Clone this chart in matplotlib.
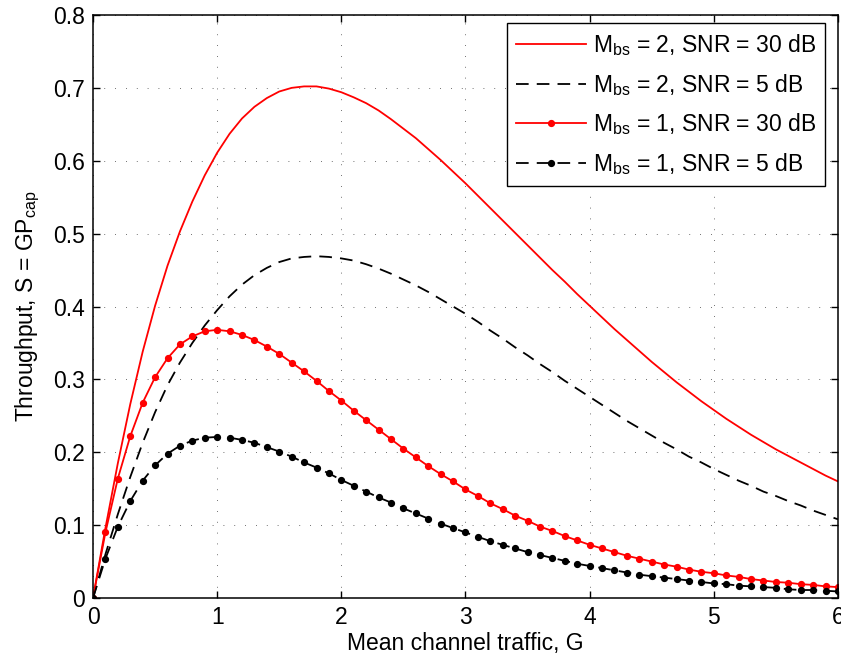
import numpy as np
import matplotlib
matplotlib.use('Agg')
import matplotlib.pyplot as plt
from matplotlib.ticker import FormatStrFormatter

plt.rcParams['font.family'] = ['Liberation Sans', 'DejaVu Sans']
plt.rcParams['mathtext.fontset'] = 'custom'
plt.rcParams['mathtext.rm'] = 'Liberation Sans'
plt.rcParams['mathtext.it'] = 'Liberation Sans'

# Mean channel traffic G, step 0.1
g = np.linspace(0, 6, 61)

# M_bs = 2, SNR = 30 dB
m2_snr30 = [0.000, 0.096, 0.185, 0.266, 0.338, 0.401, 0.456, 0.503, 0.544, 0.580,
            0.611, 0.637, 0.658, 0.674, 0.686, 0.695, 0.700, 0.702, 0.702, 0.699,
            0.694, 0.687, 0.679, 0.669, 0.657, 0.644, 0.631, 0.616, 0.601, 0.585,
            0.569, 0.552, 0.535, 0.518, 0.501, 0.484, 0.467, 0.450, 0.434, 0.417,
            0.401, 0.385, 0.369, 0.354, 0.339, 0.324, 0.310, 0.296, 0.283, 0.270,
            0.258, 0.246, 0.235, 0.224, 0.214, 0.204, 0.195, 0.186, 0.177, 0.168,
            0.160]

# M_bs = 2, SNR = 5 dB
m2_snr5 = [0.000, 0.060, 0.115, 0.166, 0.213, 0.255, 0.292, 0.323, 0.350, 0.374,
           0.395, 0.414, 0.430, 0.443, 0.453, 0.461, 0.466, 0.468, 0.469, 0.468,
           0.466, 0.463, 0.458, 0.452, 0.445, 0.437, 0.429, 0.420, 0.410, 0.400,
           0.390, 0.379, 0.367, 0.356, 0.344, 0.333, 0.321, 0.310, 0.298, 0.287,
           0.276, 0.265, 0.254, 0.243, 0.233, 0.223, 0.213, 0.204, 0.194, 0.186,
           0.177, 0.169, 0.161, 0.154, 0.146, 0.140, 0.133, 0.127, 0.120, 0.114,
           0.108]

# M_bs = 1, SNR = 30 dB
m1_snr30 = [0.000, 0.090, 0.164, 0.222, 0.268, 0.303, 0.329, 0.348, 0.359, 0.366,
            0.368, 0.366, 0.361, 0.354, 0.345, 0.335, 0.323, 0.311, 0.298, 0.284,
            0.271, 0.257, 0.244, 0.231, 0.218, 0.205, 0.193, 0.181, 0.170, 0.160,
            0.149, 0.140, 0.130, 0.122, 0.113, 0.106, 0.098, 0.092, 0.085, 0.079,
            0.073, 0.068, 0.063, 0.058, 0.054, 0.050, 0.046, 0.043, 0.039, 0.036,
            0.034, 0.031, 0.029, 0.026, 0.024, 0.022, 0.021, 0.019, 0.018, 0.016,
            0.015]

# M_bs = 1, SNR = 5 dB
m1_snr5 = [0.000, 0.054, 0.098, 0.133, 0.161, 0.182, 0.198, 0.209, 0.216, 0.220,
           0.221, 0.220, 0.217, 0.213, 0.207, 0.201, 0.194, 0.186, 0.179, 0.171,
           0.162, 0.154, 0.146, 0.138, 0.131, 0.123, 0.116, 0.109, 0.102, 0.096,
           0.090, 0.084, 0.078, 0.073, 0.068, 0.063, 0.059, 0.055, 0.051, 0.047,
           0.044, 0.041, 0.038, 0.035, 0.032, 0.030, 0.028, 0.026, 0.024, 0.022,
           0.020, 0.019, 0.017, 0.016, 0.015, 0.014, 0.012, 0.011, 0.011, 0.010,
           0.009]

labels = [r'M$_{\mathrm{bs}}$ = 2, SNR = 30 dB',
          r'M$_{\mathrm{bs}}$ = 2, SNR = 5 dB',
          r'M$_{\mathrm{bs}}$ = 1, SNR = 30 dB',
          r'M$_{\mathrm{bs}}$ = 1, SNR = 5 dB']

fs = 16.5
fig = plt.figure(figsize=(8.41, 6.6), dpi=100)
ax = fig.add_axes([0.1106, 0.0939, 0.8858, 0.8834])

ax.plot(g, m2_snr30, color='red', lw=1.3, label=labels[0])
ax.plot(g, m2_snr5, color='black', lw=1.3, dashes=(7, 4.5), label=labels[1])
ax.plot(g, m1_snr30, color='red', lw=1.3, marker='o', markersize=4.2, label=labels[2])
ax.plot(g, m1_snr5, color='black', lw=1.3, dashes=(7, 4.5), marker='o',
        markersize=4.2, label=labels[3])

ax.set_xlim(0, 6)
ax.set_ylim(0, 0.8)
ax.set_xticks(range(7))
ax.set_yticks(np.arange(0, 0.81, 0.1))
ax.yaxis.set_major_formatter(FormatStrFormatter('%g'))
ax.tick_params(direction='in', length=5, width=1, top=True, right=True,
               labelsize=fs, pad=6)
for s in ax.spines.values():
    s.set_linewidth(1.1)

ax.grid(True, color='0.25', lw=0.6, linestyle=(0, (1, 12)))

ax.set_xlabel('Mean channel traffic, G', fontsize=fs, labelpad=2)
ax.set_ylabel(r'Throughput, S = GP$_{\mathrm{cap}}$', fontsize=fs, labelpad=8)

leg = ax.legend(loc='upper right', bbox_to_anchor=(0.9826, 0.9863), borderaxespad=0,
                fontsize=fs, handlelength=3.05, handletextpad=0.3,
                labelspacing=0.6, borderpad=0.4, fancybox=False, framealpha=1,
                edgecolor='black')
leg.get_frame().set_linewidth(1.0)

fig.savefig('out.png', dpi=100)
